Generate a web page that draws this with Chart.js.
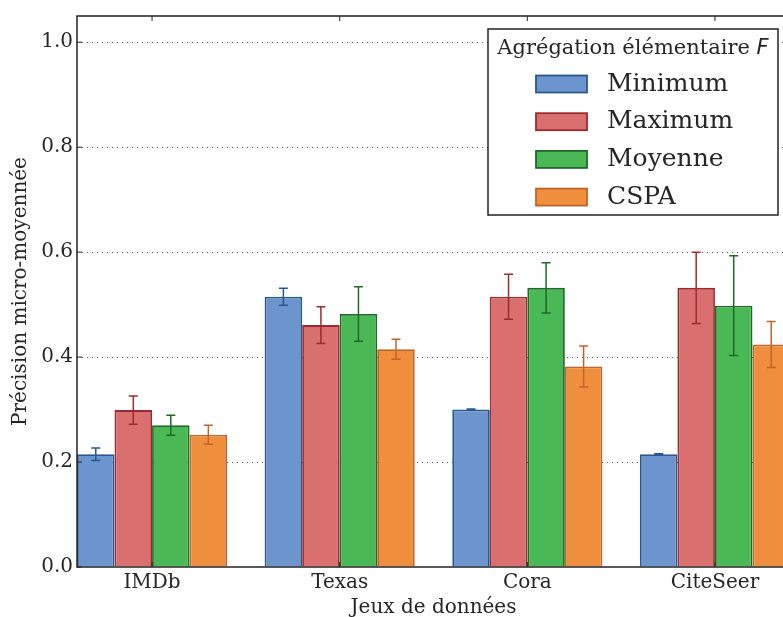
<!DOCTYPE html>
<html>
<head>
<meta charset="utf-8">
<script src="https://cdn.jsdelivr.net/npm/chart.js@4.4.0/dist/chart.umd.min.js"></script>
<style>
  html, body { margin: 0; padding: 0; overflow: hidden; background: #fff; }
  #wrap { width: 783px; height: 617px; overflow: hidden; }
  canvas { display: block; }
</style>
</head>
<body>
<div id="wrap"><canvas id="chart" width="800" height="630"></canvas></div>
<script>
// Data
const categories = ['IMDb', 'Texas', 'Cora', 'CiteSeer'];
const seriesNames = ['Minimum', 'Maximum', 'Moyenne', 'CSPA'];

const minimumValues = [0.215, 0.515, 0.300, 0.215];
const minimumErrors = [0.012, 0.016, 0.001, 0.001];
const maximumValues = [0.299, 0.461, 0.515, 0.532];
const maximumErrors = [0.027, 0.035, 0.043, 0.068];
const moyenneValues = [0.270, 0.482, 0.532, 0.498];
const moyenneErrors = [0.019, 0.052, 0.048, 0.095];
const cspaValues = [0.252, 0.415, 0.382, 0.424];
const cspaErrors = [0.018, 0.019, 0.039, 0.044];

const yTicks = [0.0, 0.2, 0.4, 0.6, 0.8, 1.0];

const fillColors = ['#6b95cc', '#d96f6f', '#4ab955', '#ef8e3c'];
const edgeColors = ['#285890', '#9c2a2e', '#1e6a2a', '#c0652a'];

const textColor = '#262626';
const serif = 'DejaVu Serif';

const seriesValues = [minimumValues, maximumValues, moyenneValues, cspaValues];
const seriesErrors = [minimumErrors, maximumErrors, moyenneErrors, cspaErrors];

// Error bars drawn on top of each bar
const errorBars = {
  id: 'errorBars',
  afterDatasetsDraw(chart) {
    const ctx = chart.ctx;
    const y = chart.scales.y;
    chart.data.datasets.forEach((ds, di) => {
      const meta = chart.getDatasetMeta(di);
      meta.data.forEach((bar, i) => {
        const v = ds.data[i].y;
        const e = ds.errors[i];
        const top = y.getPixelForValue(v + e);
        const bottom = y.getPixelForValue(v - e);
        ctx.save();
        ctx.strokeStyle = ds.borderColor;
        ctx.lineWidth = 1.5;
        ctx.beginPath();
        ctx.moveTo(bar.x, top);
        ctx.lineTo(bar.x, bottom);
        ctx.moveTo(bar.x - 4.5, top);
        ctx.lineTo(bar.x + 4.5, top);
        ctx.moveTo(bar.x - 4.5, bottom);
        ctx.lineTo(bar.x + 4.5, bottom);
        ctx.stroke();
        ctx.restore();
      });
    });
  }
};

// Box around the plot with inward ticks
const frame = {
  id: 'frame',
  afterDraw(chart) {
    const { ctx, chartArea: a, scales } = chart;
    ctx.save();
    ctx.strokeStyle = '#222';
    ctx.lineWidth = 1.5;
    ctx.strokeRect(a.left, a.top, a.right - a.left, a.bottom - a.top);
    ctx.beginPath();
    scales.x.ticks.forEach(t => {
      const px = scales.x.getPixelForValue(t.value);
      ctx.moveTo(px, a.bottom); ctx.lineTo(px, a.bottom - 5);
      ctx.moveTo(px, a.top); ctx.lineTo(px, a.top + 5);
    });
    scales.y.ticks.forEach(t => {
      const py = scales.y.getPixelForValue(t.value);
      ctx.moveTo(a.left, py); ctx.lineTo(a.left + 5, py);
      ctx.moveTo(a.right, py); ctx.lineTo(a.right - 5, py);
    });
    ctx.lineWidth = 1;
    ctx.stroke();
    ctx.restore();
  }
};

// Legend box in the upper right corner
const boxLegend = {
  id: 'boxLegend',
  afterDraw(chart) {
    const { ctx, chartArea: a } = chart;
    const w = 290, h = 186;
    const right = a.right - 12;
    const top = a.top + 13;
    const left = right - w;
    ctx.save();
    ctx.fillStyle = '#fff';
    ctx.fillRect(left, top, w, h);
    ctx.strokeStyle = '#222';
    ctx.lineWidth = 1.5;
    ctx.strokeRect(left, top, w, h);

    // title with italic F
    const t1 = 'Agrégation élémentaire ';
    const t2 = 'F';
    const f1 = '21px ' + serif;
    const f2 = 'italic 21px DejaVu Sans';
    ctx.font = f1;
    const w1 = ctx.measureText(t1).width;
    ctx.font = f2;
    const w2 = ctx.measureText(t2).width;
    const tx = left + (w - w1 - w2) / 2;
    ctx.fillStyle = textColor;
    ctx.textBaseline = 'middle';
    ctx.font = f1;
    ctx.fillText(t1, tx, top + 20);
    ctx.font = f2;
    ctx.fillText(t2, tx + w1, top + 20);

    chart.data.datasets.forEach((ds, i) => {
      const cy = top + 55 + i * 37.7;
      ctx.fillStyle = ds.backgroundColor;
      ctx.fillRect(left + 48, cy - 8.5, 51, 17);
      ctx.strokeStyle = ds.borderColor;
      ctx.lineWidth = 1.8;
      ctx.strokeRect(left + 48, cy - 8.5, 51, 17);
      ctx.fillStyle = textColor;
      ctx.font = '25px ' + serif;
      ctx.fillText(ds.label, left + 119, cy);
    });
    ctx.restore();
  }
};

const datasets = seriesNames.map((name, s) => ({
  label: name,
  data: seriesValues[s].map((v, i) => ({ x: i, y: v })),
  errors: seriesErrors[s],
  backgroundColor: fillColors[s],
  borderColor: edgeColors[s],
  borderWidth: 1.8,
  categoryPercentage: 0.8,
  barPercentage: 1.0
}));

new Chart(document.getElementById('chart'), {
  type: 'bar',
  data: { datasets },
  options: {
    responsive: false,
    animation: false,
    devicePixelRatio: 1,
    layout: { padding: { left: 0, top: 14, right: 10, bottom: 0 } },
    plugins: {
      legend: { display: false },
      tooltip: { enabled: false }
    },
    scales: {
      x: {
        type: 'linear',
        offset: false,
        min: -0.4,
        max: 3.4,
        grid: { display: false, drawTicks: false, offset: false },
        border: { display: false },
        afterBuildTicks: scale => {
          scale.ticks = categories.map((c, i) => ({ value: i }));
        },
        afterFit: scale => { scale.height = 63; },
        ticks: {
          autoSkip: false,
          maxRotation: 0,
          padding: 4,
          color: textColor,
          font: { family: serif, size: 20 },
          callback: value => categories[value]
        },
        title: {
          display: true,
          text: 'Jeux de données',
          color: textColor,
          font: { family: serif, size: 20 },
          padding: { top: 0, bottom: 10 }
        }
      },
      y: {
        min: 0,
        max: 1.05,
        z: 1,
        afterBuildTicks: scale => {
          scale.ticks = yTicks.map(v => ({ value: v }));
        },
        afterFit: scale => { scale.width = 77; },
        grid: {
          drawTicks: false,
          lineWidth: 1,
          color: c => (c.tick && c.tick.value === 0 ? 'rgba(0,0,0,0)' : '#555')
        },
        border: { display: false, dash: [1, 4] },
        ticks: {
          padding: 4,
          color: textColor,
          font: { family: serif, size: 20 },
          callback: value => value.toFixed(1)
        },
        title: {
          display: true,
          text: 'Précision micro-moyennée',
          color: textColor,
          font: { family: serif, size: 20 },
          padding: { top: 9, bottom: 0 }
        }
      }
    }
  },
  plugins: [errorBars, frame, boxLegend]
});
</script>
</body>
</html>
